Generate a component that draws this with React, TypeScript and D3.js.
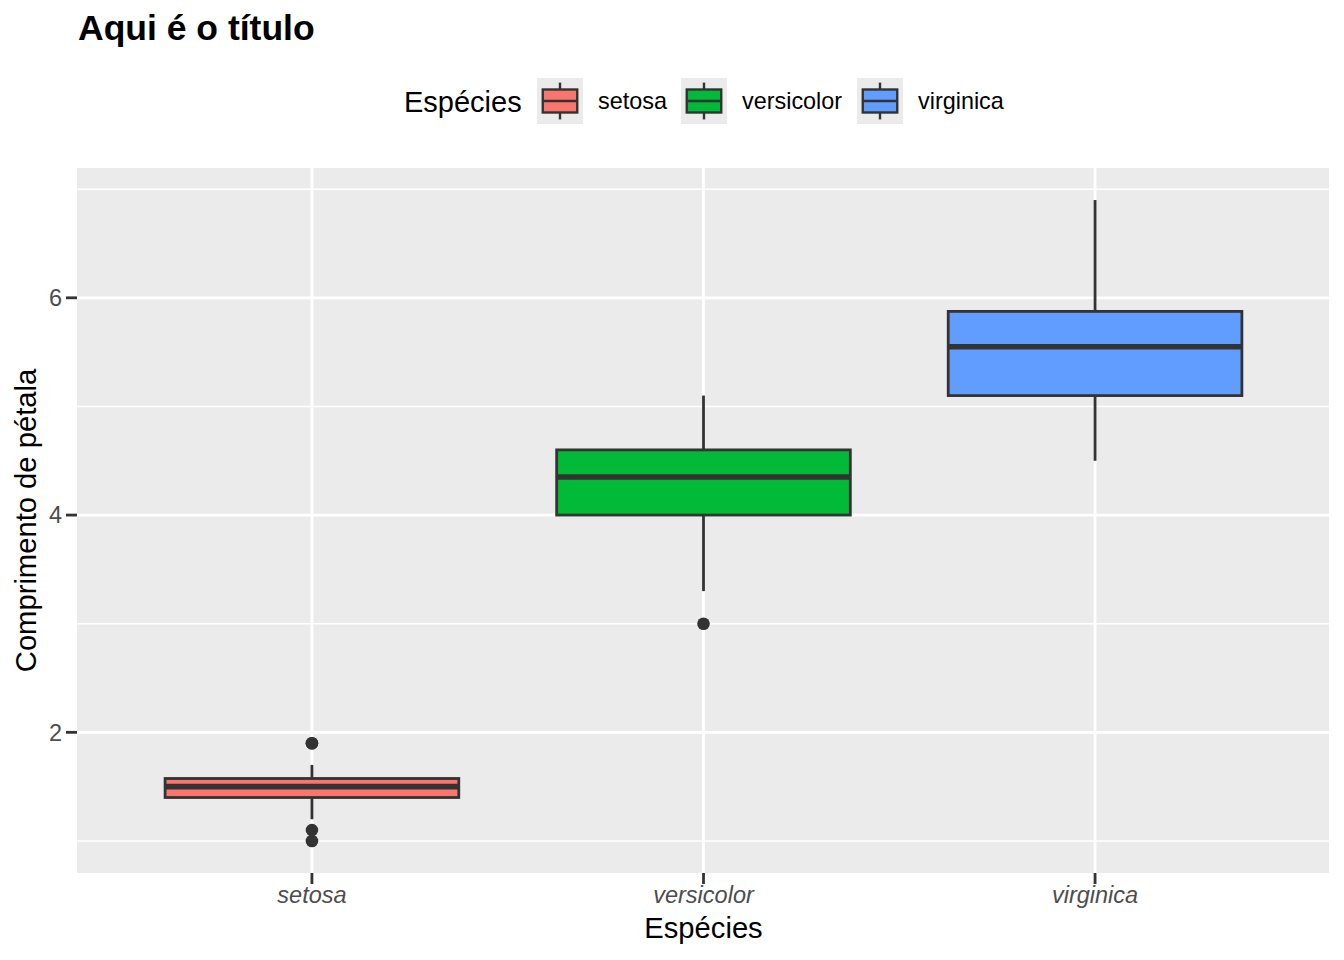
import React from "react";
import * as d3 from "d3";

const species = ["setosa", "versicolor", "virginica"];
const lowerWhisker = [1.2, 3.3, 4.5];
const q1 = [1.4, 4.0, 5.1];
const median = [1.5, 4.35, 5.55];
const q3 = [1.575, 4.6, 5.875];
const upperWhisker = [1.7, 5.1, 6.9];
const outliers = [[1.9, 1.9, 1.0, 1.1], [3.0], []];
const fills = ["#F8766D", "#00BA38", "#619CFF"];
const yTicks = [2, 4, 6];
const yMinor = [1, 3, 5, 7];
const dataMin = 1.0;
const dataMax = 6.9;

const W = 1344;
const H = 960;
const panel = { left: 77, right: 1330, top: 168, bottom: 873 };
const font = "Liberation Sans, Arial, Helvetica, sans-serif";

export default function App() {
  const span = dataMax - dataMin;
  const y = d3
    .scaleLinear()
    .domain([dataMin - span * 0.05, dataMax + span * 0.05])
    .range([panel.bottom, panel.top]);
  const xc = d3
    .scaleLinear()
    .domain([0.4, 3.6])
    .range([panel.left, panel.right]);
  const unit = xc(1) - xc(0);
  const boxW = unit * 0.75;
  const x = (i: number) => xc(i + 1);

  const legendKeys = [537, 681, 857];
  const legendLabels = [598, 742, 918];
  const keyS = 46;
  const keyCy = 101;

  return (
    <svg width={W} height={H} style={{ display: "block", position: "absolute", left: 0, top: 0 }}>
      <rect x={0} y={0} width={W} height={H} fill="#fff" />
      <text x={78} y={40} fontFamily={font} fontWeight="bold" fontSize={35.5} fill="#000">
        Aqui é o título
      </text>

      {/* legend */}
      <text x={404} y={112} fontFamily={font} fontSize={29} fill="#000">
        Espécies
      </text>
      {species.map((s, i) => {
        const kx = legendKeys[i];
        const ky = keyCy - keyS / 2;
        return (
          <g key={s}>
            <rect x={kx} y={ky} width={keyS} height={keyS} fill="#EBEBEB" />
            <line x1={kx + keyS / 2} x2={kx + keyS / 2} y1={ky + keyS * 0.1} y2={ky + keyS * 0.9} stroke="#333" strokeWidth={2.4} />
            <rect
              x={kx + keyS * 0.125}
              y={ky + keyS * 0.25}
              width={keyS * 0.75}
              height={keyS * 0.5}
              fill={fills[i]}
              stroke="#333"
              strokeWidth={2.4}
            />
            <line x1={kx + keyS * 0.125} x2={kx + keyS * 0.875} y1={keyCy} y2={keyCy} stroke="#333" strokeWidth={2.4} />
            <text x={legendLabels[i]} y={109} fontFamily={font} fontSize={23.4} fill="#000">
              {s}
            </text>
          </g>
        );
      })}

      {/* panel */}
      <rect x={panel.left} y={panel.top} width={1329 - panel.left} height={panel.bottom - panel.top} fill="#EBEBEB" />
      {yMinor.map((v) => (
        <line key={"m" + v} x1={panel.left} x2={1329} y1={y(v)} y2={y(v)} stroke="#fff" strokeWidth={1.4} />
      ))}
      {yTicks.map((v) => (
        <line key={"g" + v} x1={panel.left} x2={1329} y1={y(v)} y2={y(v)} stroke="#fff" strokeWidth={2.8} />
      ))}
      {species.map((s, i) => (
        <line key={"v" + s} x1={x(i)} x2={x(i)} y1={panel.top} y2={panel.bottom} stroke="#fff" strokeWidth={2.8} />
      ))}

      {/* boxes */}
      {species.map((s, i) => {
        const cx = x(i);
        return (
          <g key={"b" + s}>
            <line x1={cx} x2={cx} y1={y(upperWhisker[i])} y2={y(q3[i])} stroke="#333" strokeWidth={2.8} />
            <line x1={cx} x2={cx} y1={y(q1[i])} y2={y(lowerWhisker[i])} stroke="#333" strokeWidth={2.8} />
            <rect
              x={cx - boxW / 2}
              y={y(q3[i])}
              width={boxW}
              height={y(q1[i]) - y(q3[i])}
              fill={fills[i]}
              stroke="#333"
              strokeWidth={2.8}
            />
            <line x1={cx - boxW / 2} x2={cx + boxW / 2} y1={y(median[i])} y2={y(median[i])} stroke="#333" strokeWidth={5.6} />
            {outliers[i].map((o, j) => (
              <circle key={j} cx={cx} cy={y(o)} r={6.3} fill="#333" />
            ))}
          </g>
        );
      })}

      {/* y axis */}
      {yTicks.map((v) => (
        <g key={"yt" + v}>
          <line x1={panel.left - 11} x2={panel.left} y1={y(v)} y2={y(v)} stroke="#333" strokeWidth={2.8} />
          <text x={panel.left - 15} y={y(v)} dy="0.35em" textAnchor="end" fontFamily={font} fontSize={23.5} fill="#4D4D4D">
            {v}
          </text>
        </g>
      ))}
      {/* x axis */}
      {species.map((s, i) => (
        <g key={"xt" + s}>
          <line x1={x(i)} x2={x(i)} y1={panel.bottom} y2={panel.bottom + 11} stroke="#333" strokeWidth={2.8} />
          <text x={x(i)} y={903} textAnchor="middle" fontFamily={font} fontStyle="italic" fontSize={23.5} fill="#4D4D4D">
            {s}
          </text>
        </g>
      ))}
      <text x={(panel.left + panel.right) / 2} y={938} textAnchor="middle" fontFamily={font} fontSize={29.2} fill="#000">
        Espécies
      </text>
      <text
        transform={`translate(36, ${(panel.top + panel.bottom) / 2}) rotate(-90)`}
        textAnchor="middle"
        fontFamily={font}
        fontSize={29.2}
        fill="#000"
      >
        Comprimento de pétala
      </text>
    </svg>
  );
}
